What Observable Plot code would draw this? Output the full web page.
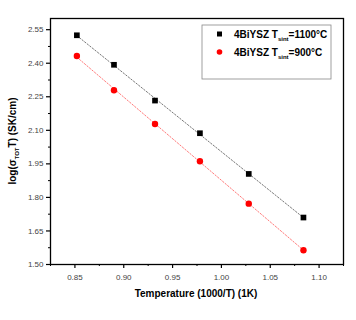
<!DOCTYPE html>
<html><head><meta charset="utf-8">
<script src="https://cdn.jsdelivr.net/npm/d3@7"></script>
<script src="https://cdn.jsdelivr.net/npm/@observablehq/plot@0.6"></script>
<style>body{margin:0;background:#fff;font-family:"Liberation Sans",Arial,sans-serif}</style>
</head><body><div id="chart"></div>
<script>
const invT = [0.852, 0.890, 0.932, 0.978, 1.028, 1.084];
const logS1100 = [2.525, 2.393, 2.233, 2.087, 1.905, 1.710];
const logS900 = [2.432, 2.279, 2.128, 1.962, 1.772, 1.564];
const seriesNames = ["1100", "900"];
const xTicks = [0.85, 0.90, 0.95, 1.00, 1.05, 1.10];
const yTicks = [1.50, 1.65, 1.80, 1.95, 2.10, 2.25, 2.40, 2.55];

const data = [
  ...invT.map((x, i) => ({x, y: logS1100[i], s: seriesNames[0]})),
  ...invT.map((x, i) => ({x, y: logS900[i], s: seriesNames[1]}))
];
const d1100 = data.filter(d => d.s === "1100");
const d900 = data.filter(d => d.s === "900");
const xMinor = xTicks.map(v => v + 0.025).concat([xTicks[0] - 0.025]);
const yMinor = yTicks.map(v => v + 0.075).slice(0, -1);

const plot = Plot.plot({
  width: 356, height: 320,
  marginLeft: 50, marginTop: 18, marginRight: 13, marginBottom: 56,
  style: {fontFamily: "Liberation Sans, Arial, sans-serif", background: "#fff"},
  x: {domain: [0.825, 1.125]},
  y: {domain: [1.5, 2.6]},
  marks: [
    Plot.linearRegressionY(d1100, {x: "x", y: "y", stroke: "#666", strokeWidth: 0.9, strokeDasharray: "1.5,1.8", ci: 0}),
    Plot.linearRegressionY(d900, {x: "x", y: "y", stroke: "#ff6a6a", strokeWidth: 0.9, strokeDasharray: "1.5,1.8", ci: 0}),
    Plot.dot(d1100, {x: "x", y: "y", symbol: "square", fill: "black", r: 3.2}),
    Plot.dot(d900, {x: "x", y: "y", symbol: "circle", fill: "#ff0000", r: 3.2}),
    Plot.axisX({ticks: xTicks, tickSize: 4, tickFormat: ".2f", fontSize: 8, fill: "#444", stroke: "black", strokeWidth: 1.2, tickPadding: 6, label: null}),
    Plot.axisX({ticks: xMinor, tickSize: 2, tickFormat: () => "", stroke: "black", strokeWidth: 1, label: null}),
    Plot.axisY({ticks: yTicks, tickSize: 4, tickFormat: ".2f", fontSize: 8, fill: "#444", stroke: "black", strokeWidth: 1.2, tickPadding: 3, label: null}),
    Plot.axisY({ticks: yMinor, tickSize: 2, tickFormat: () => "", stroke: "black", strokeWidth: 1, label: null}),
    Plot.frame({stroke: "black", strokeWidth: 1.3})
  ]
});
document.getElementById("chart").appendChild(plot);

const svg = d3.select(plot);
// axis titles
const yt = svg.append("text")
  .attr("transform", "translate(16,141) rotate(-90)")
  .attr("text-anchor", "middle")
  .attr("font-weight", "bold").attr("font-size", 10).attr("fill", "black");
yt.append("tspan").text("log(σ");
yt.append("tspan").attr("font-size", 6).attr("dy", 2.5).text("TOT");
yt.append("tspan").attr("dy", -2.5).text("T) (SK/cm)");

svg.append("text")
  .attr("x", 196).attr("y", 297)
  .attr("text-anchor", "middle")
  .attr("font-weight", "bold").attr("font-size", 10).attr("fill", "black")
  .text("Temperature (1000/T) (1K)");

// legend
const lg = svg.append("g").attr("text-anchor", "start");
lg.append("rect").attr("x", 202).attr("y", 25).attr("width", 129).attr("height", 54)
  .attr("fill", "white").attr("stroke", "#888").attr("stroke-width", 0.8);
const entries = [
  {label: "=1100°C", y: 34, sym: "square", color: "black"},
  {label: "=900°C", y: 52, sym: "circle", color: "#ff0000"}
];
entries.forEach(e => {
  if (e.sym === "square") lg.append("rect").attr("x", 217).attr("y", e.y - 2.5).attr("width", 5).attr("height", 5).attr("fill", e.color);
  else lg.append("circle").attr("cx", 219.5).attr("cy", e.y).attr("r", 2.8).attr("fill", e.color);
  const t = lg.append("text").attr("x", 234).attr("y", e.y + 3.5)
    .attr("text-anchor", "start")
    .attr("font-weight", "bold").attr("font-size", 10).attr("fill", "black");
  t.append("tspan").text("4BiYSZ T");
  t.append("tspan").attr("font-size", 6).attr("dy", 3).text("sint");
  t.append("tspan").attr("dy", -3).text(e.label);
});
</script>
</body></html>
